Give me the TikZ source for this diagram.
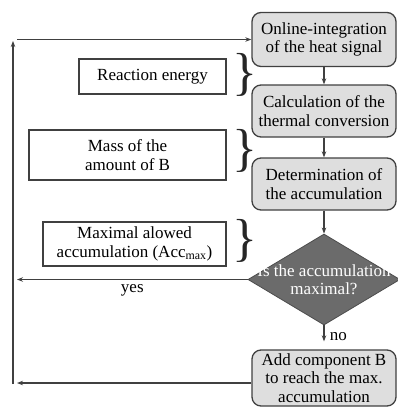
\documentclass[tikz,border=0pt]{standalone}
\usepackage{fontspec}
\setmainfont{Liberation Serif}
\newfontfamily\tms{Liberation Serif}
\usetikzlibrary{shapes.geometric,arrows.meta}
\begin{document}
\begin{tikzpicture}[x=1pt,y=-1pt,
  every node/.style={font=\tms\fontsize{17}{18.5}\selectfont, align=center},
  proc/.style={draw=black!75, line width=1.3pt, fill=black!13, rounded corners=9pt, minimum width=144pt, inner sep=0pt},
  info/.style={draw=black!75, line width=1.3pt, fill=white, inner sep=0pt},
  dec/.style={diamond, fill=black!58, draw=black!70, line width=0.8pt, minimum width=152pt, minimum height=91pt, inner sep=0pt},
  arr/.style={draw=black!75, line width=1.2pt, -{Stealth[length=6pt,width=4.5pt]}},
  brc/.style={font=\tms\fontsize{52}{52}\selectfont, inner sep=0pt, text=black!85}
]
\useasboundingbox (0,0) rectangle (398,408);
% process boxes
\node[proc, minimum height=54pt] (b1) at (324,39.5) {Online-integration\\of the heat signal};
\node[proc, minimum height=52pt] (b2) at (324,111) {Calculation of the\\thermal conversion};
\node[proc, minimum height=52pt] (b3) at (324,184) {Determination of\\the accumulation};
\node[dec] (d) at (324,279.5) {};
\node[text=white] (dt) at (324,279.5) {Is the accumulation\\maximal?};
\node[proc, minimum height=56pt] (b4) at (324,378) {Add component B\\to reach the max.\\accumulation};
% info boxes
\node[info, minimum width=147pt, minimum height=35pt] (i1) at (152.5,76.5) {Reaction energy};
\node[info, minimum width=197pt, minimum height=50pt] (i2) at (127.5,155) {Mass of the\\amount of B};
\node[info, minimum width=183pt, minimum height=44pt] (i3) at (134.5,244) {Maximal alowed\\accumulation (Acc\textsubscript{max})};
% braces
\node[brc] (r1) at (244.5,75) {\}};
\node[brc] (r2) at (244.5,151) {\}};
\node[brc] (r3) at (244.5,241) {\}};
% connectors
\draw[arr] (b1) -- (b2);
\draw[arr] (b2) -- (b3);
\draw[arr] (b3) -- (d);
\draw[arr, shorten >=8pt] (d) -- node[right, xshift=2pt, pos=0.45] (no) {no} (b4);
\coordinate (y1) at (17,279.5);
\draw[arr] (d.west) -- node[below, pos=0.5, yshift=-1pt] (yes) {yes} (y1);
\coordinate (y2) at (17,383);
\draw[arr] ([yshift=-5pt]b4.west) -- (y2);
\coordinate (lb) at (13,384);
\coordinate (lt) at (13,41);
\draw[arr] (lb) -- (lt);
\coordinate (t0) at (17,39.5);
\draw[arr] (t0) -- (b1.west);
\end{tikzpicture}
\end{document}
